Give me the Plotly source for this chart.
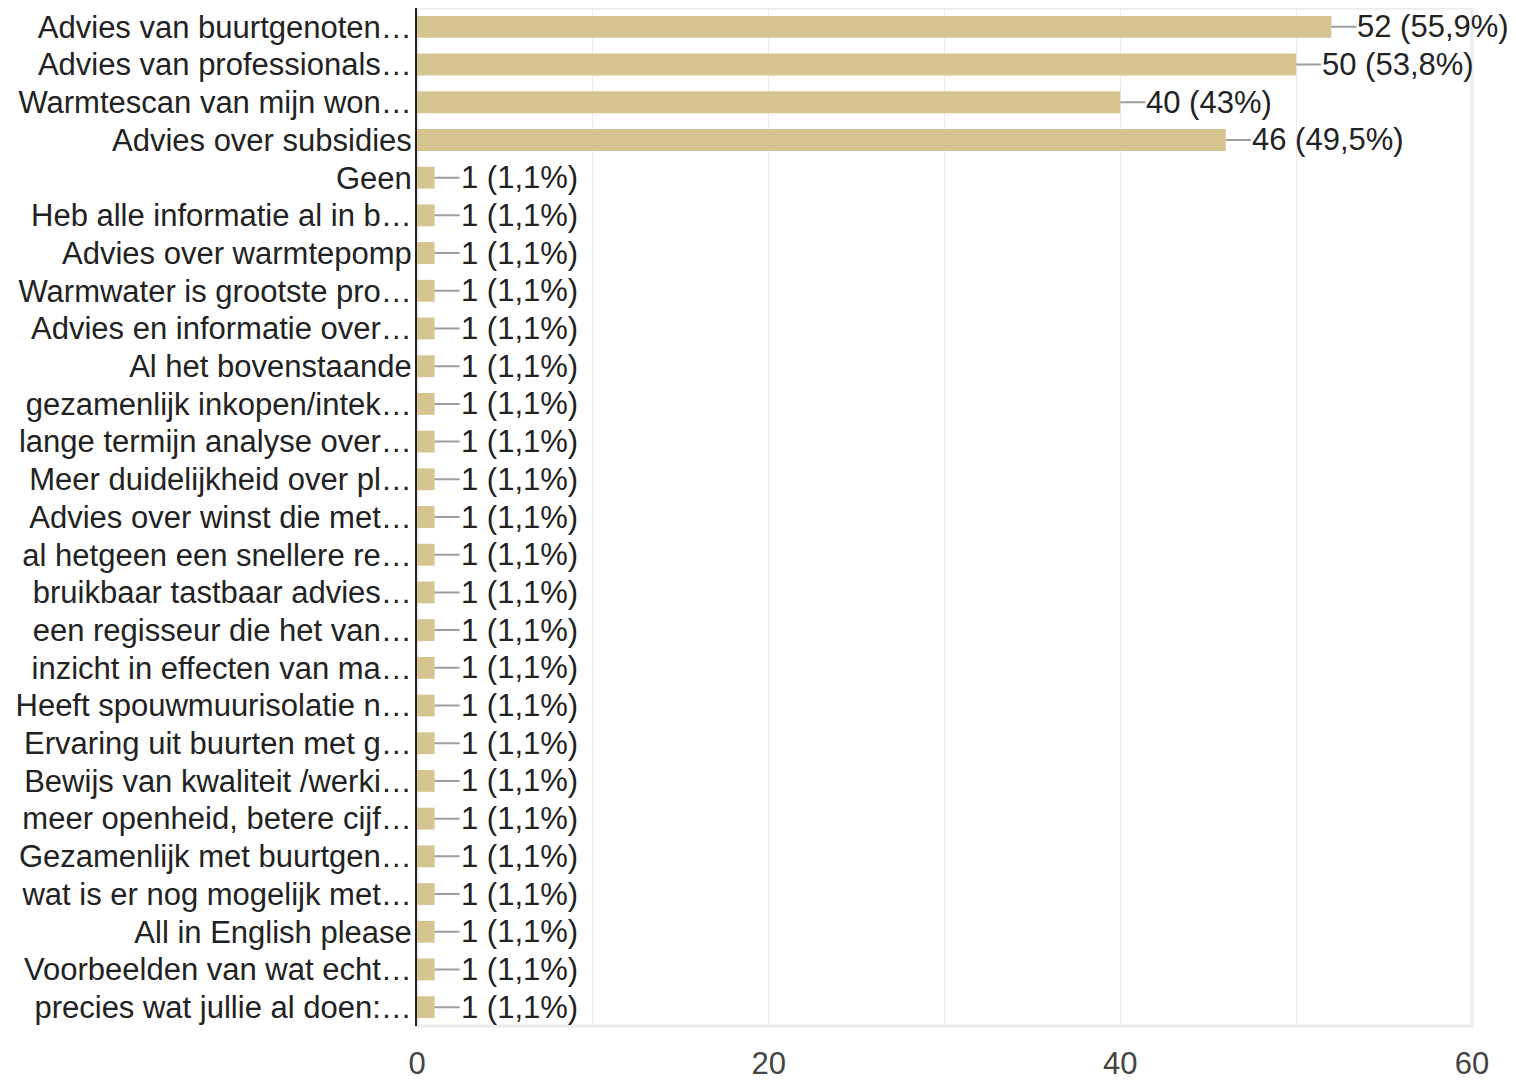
import plotly.graph_objects as go

categories = [
    "Advies van buurtgenoten…",
    "Advies van professionals…",
    "Warmtescan van mijn won…",
    "Advies over subsidies",
    "Geen",
    "Heb alle informatie al in b…",
    "Advies over warmtepomp",
    "Warmwater is grootste pro…",
    "Advies en informatie over…",
    "Al het bovenstaande",
    "gezamenlijk inkopen/intek…",
    "lange termijn analyse over…",
    "Meer duidelijkheid over pl…",
    "Advies over winst die met…",
    "al hetgeen een snellere re…",
    "bruikbaar tastbaar advies…",
    "een regisseur die het van…",
    "inzicht in effecten van ma…",
    "Heeft spouwmuurisolatie n…",
    "Ervaring uit buurten met g…",
    "Bewijs van kwaliteit /werki…",
    "meer openheid, betere cijf…",
    "Gezamenlijk met buurtgen…",
    "wat is er nog mogelijk met…",
    "All in English please",
    "Voorbeelden van wat echt…",
    "precies wat jullie al doen:…",
]
counts = [52, 50, 40, 46] + [1] * 23
percent_labels = ["55,9%", "53,8%", "43%", "49,5%"] + ["1,1%"] * 23
x_ticks = [0, 20, 40, 60]

BAR_COLOR = "#d6c591"
FONT = "Liberation Sans, Arial, Helvetica, sans-serif"
FS = 31

fig = go.Figure(
    go.Bar(
        x=counts,
        y=categories,
        orientation="h",
        marker=dict(color=BAR_COLOR, line=dict(width=0)),
        width=0.58,
        hoverinfo="skip",
    )
)

annotations = []
for c, v, p in zip(categories, counts, percent_labels):
    annotations.append(
        dict(
            x=v,
            y=c,
            xref="x",
            yref="y",
            text=f"{v} ({p})",
            showarrow=True,
            arrowhead=0,
            arrowwidth=2,
            arrowcolor="#9e9e9e",
            ax=25,
            ay=0,
            xanchor="left",
            yanchor="middle",
            borderpad=0,
            font=dict(family=FONT, size=FS, color="#222222"),
        )
    )

fig.update_layout(
    width=1508,
    height=1072,
    margin=dict(l=409, r=44, t=0, b=54, autoexpand=False),
    paper_bgcolor="white",
    plot_bgcolor="white",
    showlegend=False,
    bargap=0.42,
    annotations=annotations,
    font=dict(family=FONT, size=FS, color="#222222"),
    shapes=[
        dict(
            type="rect",
            xref="paper",
            yref="paper",
            x0=0,
            x1=1,
            y0=0,
            y1=1,
            line=dict(color="#ebebeb", width=3),
            layer="below",
        )
    ],
)

fig.update_xaxes(
    range=[0, 60],
    tickvals=x_ticks,
    ticktext=[str(t) for t in x_ticks],
    showgrid=True,
    gridcolor="#ebebeb",
    gridwidth=1,
    minor=dict(dtick=10, showgrid=True, gridcolor="#ebebeb", gridwidth=1),
    zeroline=False,
    showline=False,
    ticks="",
    automargin=False,
    ticklabelstandoff=16,
    tickfont=dict(family=FONT, size=FS, color="#444444"),
    fixedrange=True,
)

fig.update_yaxes(
    autorange="reversed",
    showgrid=False,
    zeroline=False,
    showline=True,
    linecolor="#222222",
    linewidth=2,
    ticks="",
    automargin=False,
    ticklabelstandoff=-3,
    tickfont=dict(family=FONT, size=FS, color="#222222"),
    fixedrange=True,
)

fig.write_html("out.html")
